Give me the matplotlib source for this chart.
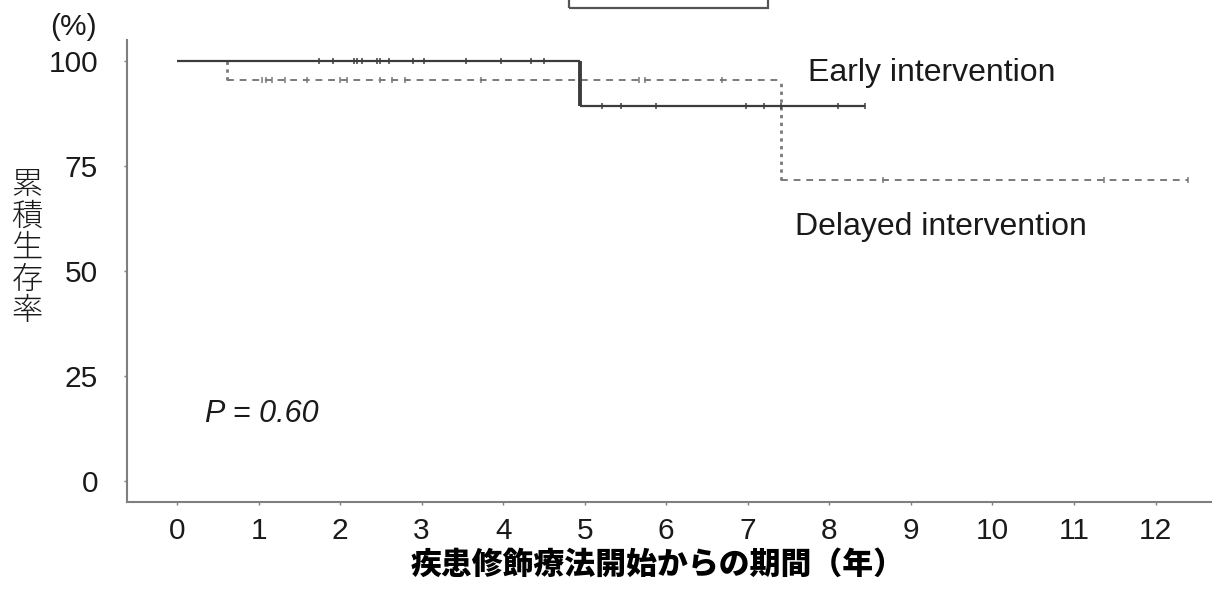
import numpy as np
import matplotlib.pyplot as plt
from matplotlib.patches import Rectangle

plt.rcParams['font.family'] = ['Liberation Sans', 'DejaVu Sans']

# Kaplan-Meier curves (years, %)
early_drops = [4.94]
early_surv = [100, 89.2]
early_end = 8.44
early_censor = [1.74, 1.91, 2.17, 2.21, 2.27, 2.45, 2.49, 2.60, 2.89, 3.03,
                3.54, 3.97, 4.34, 4.50, 5.21, 5.45, 5.87, 6.98, 7.20, 7.41, 8.11, 8.44]

delayed_drops = [0.61, 7.41]
delayed_surv = [100, 95.4, 71.6]
delayed_end = 12.4
delayed_censor = [1.04, 1.09, 1.16, 1.32, 1.59, 2.00, 2.08, 2.49, 2.64, 2.79,
                  3.73, 5.66, 5.74, 6.68, 8.66, 11.37, 12.4]

xticks = list(range(0, 13))
yticks = [0, 25, 50, 75, 100]


def surv_at(t, drops, surv):
	i = np.searchsorted(drops, t, side='right')
	return surv[i]


def draw_km(ax, drops, surv, end, censor, color, lw, hstyle, vstyle, vlw):
	starts = [0] + drops
	ends = drops + [end]
	ax.hlines(surv, starts, ends, colors=color, linestyles=hstyle, lw=lw)
	ax.vlines(drops, surv[1:], surv[:-1], colors=color, linestyles=vstyle, lw=vlw)
	cy = [surv_at(t, drops, surv) for t in censor]
	ax.plot(censor, cy, ls='none', marker='|', ms=4.5, mew=1.1, color=color)


fig = plt.figure(figsize=(12.13, 5.95), dpi=100)
ax = fig.add_axes([127.3/1213, 1 - 501.7/595, (1211 - 127.3)/1213, (501.7 - 40)/595])

draw_km(ax, delayed_drops, delayed_surv, delayed_end, delayed_censor,
	'#7a7a7a', 1.4, (0, (3.5, 3)), (0, (1.2, 1.6)), 2.0)
draw_km(ax, early_drops, early_surv, early_end, early_censor,
	'#3c3c3c', 1.6, '-', '-', 2.8)

ax.set_xlim(-0.61, 12.68)
ax.set_ylim(-5, 105)
ax.set_xticks(xticks)
ax.set_yticks(yticks)
for s in ['top', 'right']:
	ax.spines[s].set_visible(False)
for s in ['left', 'bottom']:
	ax.spines[s].set_color('#7f7f7f')
	ax.spines[s].set_linewidth(1.5)
ax.tick_params(axis='both', length=2, width=1, color='#7f7f7f', labelsize=21.5, labelcolor='#1a1a1a')
ax.tick_params(axis='y', pad=19)
ax.tick_params(axis='x', pad=9)

ax.text(7.74, 97.1, 'Early intervention', fontsize=23, va='center', ha='left', color='#1a1a1a')
ax.text(7.58, 60.4, 'Delayed intervention', fontsize=23, va='center', ha='left', color='#1a1a1a')
ax.text(0.34, 15.9, 'P = 0.60', fontsize=22, style='italic', va='center', ha='left', color='#1a1a1a')

fig.text(73/1213, 1 - 27/595, '(%)', fontsize=21.5, ha='center', va='center', color='#1a1a1a')
fig.text(27/1213, 1 - 248/595, '累\n積\n生\n存\n率', fontsize=22.5, ha='center', va='center',
	linespacing=0.98, family=['Noto Sans CJK JP', 'DejaVu Sans'], weight='light', color='#1a1a1a')
fig.text(658/1213, 1 - 564/595, '疾患修飾療法開始からの期間（年）', fontsize=22.2, ha='center', va='center',
	family=['Noto Sans CJK JP', 'DejaVu Sans'], weight='black', color='black')

fig.patches.append(Rectangle((569/1213, 1 - 8/595), (768 - 569)/1213, 0.1,
	transform=fig.transFigure, fill=False, ec='#555555', lw=1.6, clip_on=False))

fig.savefig('out.png', dpi=100)
